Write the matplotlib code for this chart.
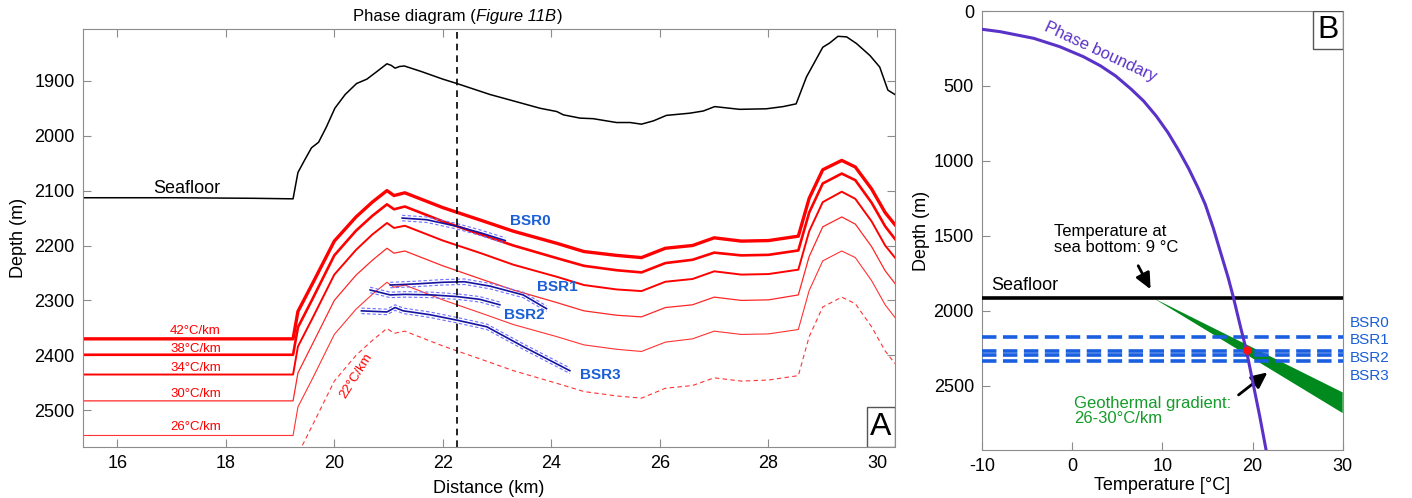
import numpy as np
import matplotlib
matplotlib.use('Agg')
import matplotlib.pyplot as plt
from matplotlib.patches import Rectangle

plt.rcParams['font.family'] = ['Liberation Sans', 'DejaVu Sans']
plt.rcParams['axes.unicode_minus'] = False

# ---- panel A data ----
sf_dist = [15.37, 17.0, 18.5, 19.24, 19.33, 19.45, 19.58, 19.71, 19.85, 20.01, 20.2, 20.41,
           20.6, 20.8, 20.97, 21.05, 21.12, 21.2, 21.29, 21.6, 22.0, 22.26, 22.87, 23.24,
           23.79, 24.1, 24.22, 24.53, 24.77, 25.2, 25.45, 25.66, 25.88, 26.12, 26.55, 26.8,
           27.01, 27.47, 27.96, 28.27, 28.51, 28.7, 29.0, 29.13, 29.28, 29.44, 29.62, 29.87,
           30.05, 30.2, 30.33]
sf_depth = [2113, 2113, 2114, 2115, 2067, 2045, 2022, 2012, 1985, 1950, 1925, 1905,
            1897, 1882, 1869, 1872, 1877, 1874, 1873, 1883, 1897, 1905, 1925, 1935,
            1950, 1956, 1962, 1968, 1969, 1976, 1976, 1979, 1973, 1963, 1959, 1955,
            1947, 1952, 1951, 1947, 1942, 1893, 1839, 1831, 1819, 1820, 1832, 1854,
            1875, 1917, 1925]

red_dist = [15.37, 19.24, 19.33, 19.6, 20.0, 20.4, 20.7, 20.97, 21.1, 21.3, 22.0, 22.7, 23.3,
            24.1, 24.6, 25.2, 25.66, 26.1, 26.6, 27.0, 27.5, 28.0, 28.55, 28.75, 29.0, 29.35,
            29.6, 29.9, 30.15, 30.33]
bsr_42 = [2370, 2370, 2320, 2269, 2192, 2148, 2121, 2100, 2109, 2104, 2131, 2154, 2174, 2196,
          2211, 2218, 2222, 2205, 2200, 2186, 2192, 2191, 2183, 2114, 2062, 2045, 2057, 2097,
          2140, 2162]
bsr_38 = [2399, 2399, 2349, 2297, 2218, 2173, 2146, 2125, 2134, 2129, 2156, 2180, 2200, 2223,
          2237, 2245, 2249, 2232, 2226, 2213, 2218, 2217, 2209, 2140, 2087, 2069, 2081, 2122,
          2165, 2188]
bsr_34 = [2435, 2435, 2384, 2332, 2253, 2208, 2180, 2159, 2168, 2164, 2191, 2214, 2235, 2257,
          2272, 2280, 2283, 2266, 2261, 2247, 2253, 2252, 2244, 2174, 2121, 2102, 2115, 2156,
          2200, 2222]
bsr_30 = [2483, 2483, 2432, 2379, 2300, 2254, 2227, 2205, 2214, 2210, 2237, 2261, 2281, 2304,
          2319, 2327, 2330, 2313, 2308, 2294, 2300, 2299, 2290, 2220, 2166, 2148, 2161, 2202,
          2246, 2269]
bsr_26 = [2546, 2546, 2494, 2442, 2362, 2316, 2289, 2267, 2276, 2272, 2299, 2323, 2344, 2366,
          2381, 2389, 2393, 2376, 2370, 2356, 2362, 2361, 2353, 2282, 2228, 2210, 2222, 2264,
          2308, 2331]
bsr_22 = [2632, 2632, 2580, 2527, 2447, 2400, 2373, 2351, 2360, 2356, 2383, 2407, 2428, 2451,
          2466, 2474, 2478, 2460, 2455, 2441, 2447, 2445, 2437, 2366, 2312, 2294, 2306, 2348,
          2392, 2415]

grad_labels = ['42°C/km', '38°C/km', '34°C/km', '30°C/km', '26°C/km']
grad_label_depth = [2356, 2389, 2424, 2471, 2530]

# picked BSRs
bsr0_x = [21.25, 21.7, 22.26, 22.7, 23.15]
bsr0_y = [2150, 2153, 2165, 2177, 2191]
bsr1_x = [21.03, 21.5, 22.0, 22.4, 22.87, 23.48, 23.91]
bsr1_y = [2272, 2270, 2267, 2266, 2274, 2290, 2315]
bsr2_x = [20.66, 21.03, 21.3, 21.8, 22.26, 22.68, 23.05]
bsr2_y = [2281, 2290, 2289, 2290, 2293, 2298, 2308]
bsr3_x = [20.5, 20.97, 21.12, 21.27, 21.76, 22.26, 22.81, 23.48, 24.34]
bsr3_y = [2319, 2321, 2313, 2319, 2326, 2336, 2348, 2384, 2428]
bsr_unc = 5
bsr_names = ['BSR0', 'BSR1', 'BSR2', 'BSR3']
bsr_label_pos = [(23.61, 2155), (24.1, 2275), (23.5, 2327), (24.9, 2435)]
profile_cut = 22.26

# ---- panel B data ----
pb_temp = [-10, -8.0, -4.3, -1.4, 1.2, 3.1, 4.8, 6.5, 7.9, 9.3, 10.6, 11.8, 12.9, 13.95,
           14.75, 15.65, 16.5, 17.3, 17.85, 18.65, 19.3, 20.05, 20.8, 21.5]
pb_depth = [122, 138, 182, 238, 304, 365, 433, 520, 600, 700, 810, 930, 1050, 1180,
            1290, 1450, 1620, 1780, 1905, 2104, 2260, 2482, 2704, 2927]
seafloor_B = 1915
t_bottom = 9
grad_T_end = 30
grad_top_end = 2543
grad_bot_end = 2681
bsr_depth_B = [2175, 2265, 2293, 2331]
bsr_label_B = [2082, 2193, 2315, 2433]
intersect = (19.35, 2262)

red = '#ff0000'
blue_lbl = '#1a5fd6'
purple = '#5a32c8'
green = '#008a1e'
gray = '#8c8c8c'

fig = plt.figure(figsize=(14.12, 4.98), dpi=100)
ax = fig.add_axes([0.0588, 0.1024, 0.575, 0.839])
axb = fig.add_axes([0.6957, 0.0964, 0.2552, 0.8815])

# ---------- A ----------
ax.plot(sf_dist, sf_depth, color='k', lw=1.1)
ax.plot(red_dist, bsr_42, color=red, lw=2.4)
ax.plot(red_dist, bsr_38, color=red, lw=1.9)
ax.plot(red_dist, bsr_34, color=red, lw=1.4)
ax.plot(red_dist, bsr_30, color=red, lw=0.9, alpha=0.85)
ax.plot(red_dist, bsr_26, color=red, lw=0.8, alpha=0.8)
ax.plot(red_dist, bsr_22, color=red, lw=0.8, alpha=0.8, ls=(0, (4, 3)))

for lbl, d in zip(grad_labels, grad_label_depth):
    ax.text(17.44, d, lbl, color=red, fontsize=9.5, ha='center', va='center')
ax.text(20.4, 2437, '22°C/km', color=red, fontsize=9.5, ha='center', va='center', rotation=58)

for xs, ys in [(bsr0_x, bsr0_y), (bsr1_x, bsr1_y), (bsr2_x, bsr2_y), (bsr3_x, bsr3_y)]:
    ys = np.array(ys)
    ax.plot(xs, ys - bsr_unc, color='#6f6fff', lw=0.8, ls=(0, (3, 2)))
    ax.plot(xs, ys + bsr_unc, color='#6f6fff', lw=0.8, ls=(0, (3, 2)))
    ax.plot(xs, ys, color='#1414a0', lw=1.2)
for name, (x, y) in zip(bsr_names, bsr_label_pos):
    ax.text(x, y, name, color=blue_lbl, fontsize=11, fontweight='bold', ha='center', va='center')

ax.axvline(profile_cut, color='k', lw=1.2, ls=(0, (4, 3)))
ax.text(17.28, 2096, 'Seafloor', fontsize=13, ha='center', va='center')

ax.set_xlim(15.37, 30.33)
ax.set_ylim(2567, 1806)
ax.set_xticks(np.arange(16, 31, 2))
ax.set_yticks(np.arange(1900, 2501, 100))
ax.tick_params(direction='in', top=True, right=True, length=6, width=0.8, color=gray,
               labelsize=13, pad=6)
for s in ax.spines.values():
    s.set_color(gray)
ax.set_xlabel('Distance (km)', fontsize=13)
ax.set_ylabel('Depth (m)', fontsize=13)
ax.xaxis.set_label_coords(0.5, -0.079)
ax.yaxis.set_label_coords(-0.069, 0.5)

wA, hA = 0.0345, 0.0957
ax.add_patch(Rectangle((1 - wA, 0), wA, hA, transform=ax.transAxes, facecolor='white',
                       edgecolor='#555555', lw=1, zorder=5))
ax.text(1 - wA / 2, hA / 2, 'A', transform=ax.transAxes, fontsize=23, ha='center',
        va='center', zorder=6)

# title with an italic part, laid out piece by piece
parts = [('Phase diagram (', 'normal'), ('Figure 11B', 'italic'), (')', 'normal')]
tobjs = [fig.text(0, 0.966, s, fontsize=12, style=st, ha='left', va='center') for s, st in parts]
fig.canvas.draw()
rend = fig.canvas.get_renderer()
widths = [t.get_window_extent(rend).width for t in tobjs]
x0 = 0.3242 * fig.bbox.width - sum(widths) / 2
for t, w in zip(tobjs, widths):
    t.set_x(x0 / fig.bbox.width)
    x0 += w

# ---------- B ----------
axb.fill([t_bottom, grad_T_end, grad_T_end], [seafloor_B, grad_top_end, grad_bot_end],
         color=green, lw=0, zorder=2)
axb.axhline(seafloor_B, color='k', lw=2.6, zorder=3)
for d in bsr_depth_B:
    axb.axhline(d, color='#1a5fe0', lw=2.6, ls=(0, (4.0, 1.8)), zorder=3)
axb.plot(pb_temp, pb_depth, color=purple, lw=2.2, zorder=4)
axb.plot(*intersect, 'o', color='#ff1010', ms=5, zorder=5)

axb.text(3.06, 271, 'Phase boundary', color=purple, fontsize=12, rotation=-25,
         ha='center', va='center')
axb.text(-8.96, 1827, 'Seafloor', fontsize=13, ha='left', va='center')
axb.text(-2.0, 1525, 'Temperature at\nsea bottom: 9 °C', fontsize=12, ha='left',
         va='center', linespacing=1.05)
arrow = dict(arrowstyle='-|>,head_width=0.28,head_length=0.6', color='k', lw=2,
             mutation_scale=16)
axb.annotate('', xy=(8.82, 1872), xytext=(7.16, 1682), arrowprops=arrow)
axb.text(0.18, 2668, 'Geothermal gradient:\n26-30°C/km', color='#149c2a', fontsize=12,
         ha='left', va='center', linespacing=1.05)
axb.annotate('', xy=(21.9, 2398), xytext=(18.2, 2571), arrowprops=arrow)
for name, d in zip(bsr_names, bsr_label_B):
    axb.text(1.02, d, name, color=blue_lbl, fontsize=11, ha='left', va='center',
             transform=axb.get_yaxis_transform())

axb.set_xlim(-10, 30)
axb.set_ylim(2927, 0)
axb.set_xticks([-10, 0, 10, 20, 30])
axb.set_yticks([0, 500, 1000, 1500, 2000, 2500])
axb.tick_params(direction='in', length=6, width=0.8, color=gray, labelsize=13, pad=6)
for s in axb.spines.values():
    s.set_color(gray)
axb.set_xlabel('Temperature [°C]', fontsize=13)
axb.set_ylabel('Depth (m)', fontsize=13)
axb.xaxis.set_label_coords(0.5, -0.061)
axb.yaxis.set_label_coords(-0.145, 0.5)

wB, hB = 0.0832, 0.0866
axb.add_patch(Rectangle((1 - wB, 1 - hB), wB, hB, transform=axb.transAxes, facecolor='white',
                        edgecolor='#555555', lw=1, zorder=6))
axb.text(1 - wB / 2, 1 - hB / 2, 'B', transform=axb.transAxes, fontsize=23, ha='center',
         va='center', zorder=7)

fig.savefig('out.png', dpi=100)
